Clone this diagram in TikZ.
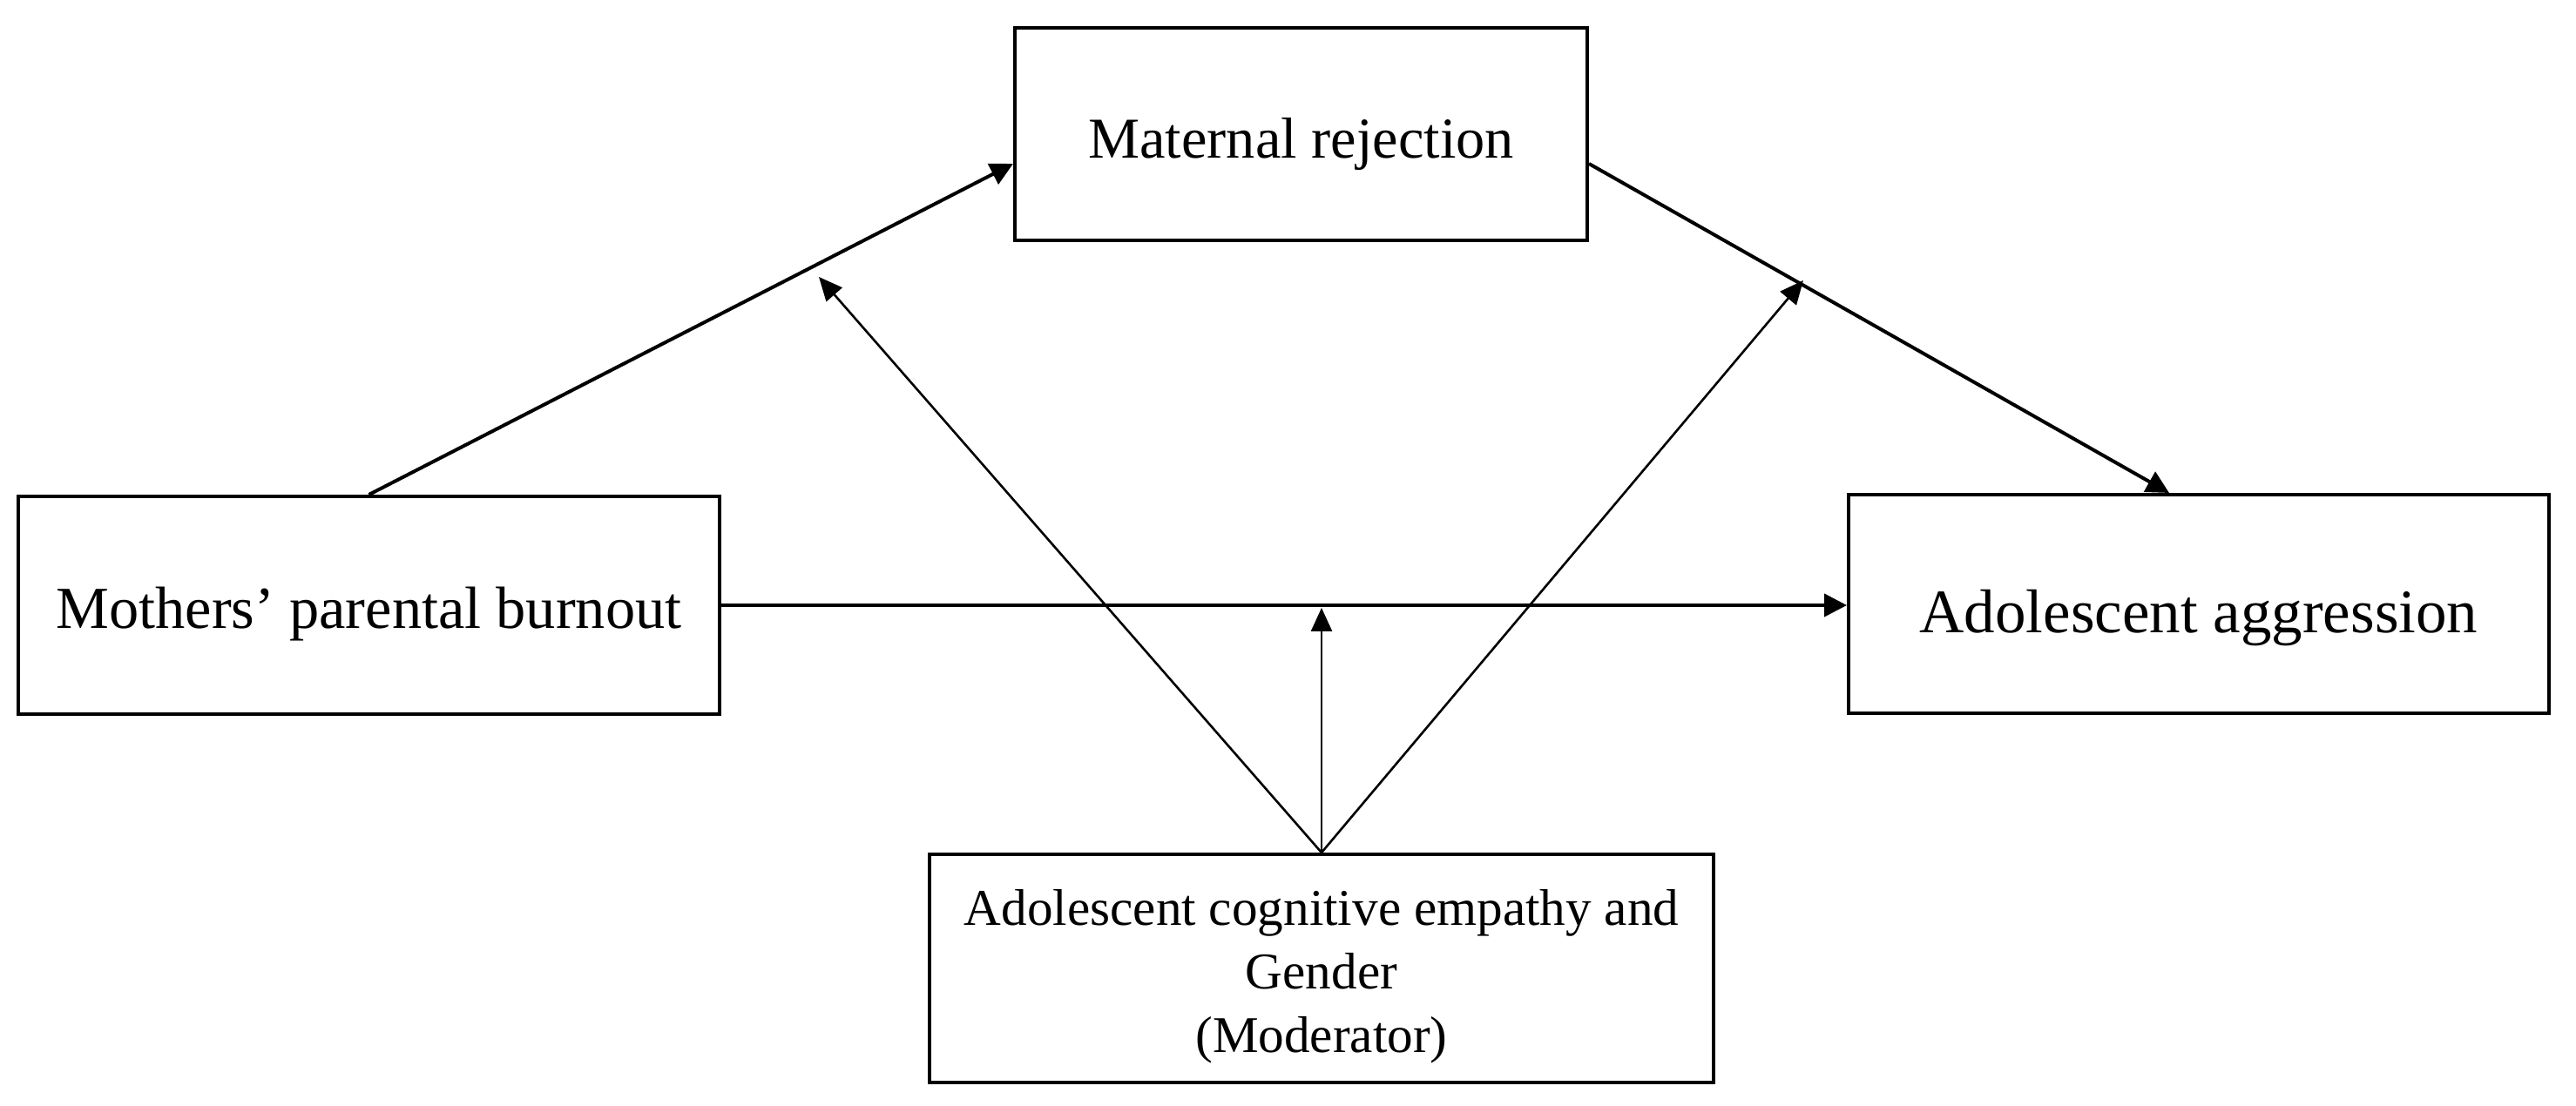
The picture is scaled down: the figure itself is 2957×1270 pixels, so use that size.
\documentclass[tikz,border=0pt]{standalone}
\usepackage{fontspec}
\setmainfont{Liberation Serif}
\usetikzlibrary{arrows.meta}
\begin{document}
\begin{tikzpicture}[x=0.25pt,y=-0.25pt,
  box/.style={draw=black, line width=1pt, rectangle, inner sep=0pt, text=black, align=center},
  mainarrow/.style={line width=1pt, -{Triangle[length=6.5pt,width=6.5pt]}},
  modarrow/.style={line width=0.65pt, -{Triangle[length=6.75pt,width=6pt]}}]
\useasboundingbox (0,0) rectangle (2957,1270);

\node[box, minimum width=164.25pt, minimum height=61pt,
      font={\fontsize{16.6pt}{20pt}\selectfont}, text height=14pt, text depth=0pt]
  (mr) at (1493.5,154) {Maternal rejection};
\node[box, minimum width=201.25pt, minimum height=62.5pt,
      font={\fontsize{17.1pt}{20.5pt}\selectfont}, text height=13.5pt, text depth=0pt]
  (mpb) at (423.5,695) {Mothers’ parental burnout};
\node[box, minimum width=201pt, minimum height=62.75pt,
      font={\fontsize{17.75pt}{21pt}\selectfont}, text height=16.5pt, text depth=0pt]
  (agg) at (2524,693.5) {Adolescent aggression};
\node[box, minimum width=225pt, minimum height=65.5pt,
      font={\fontsize{14.8pt}{18.25pt}\selectfont}]
  (mod) at (1517,1112) {\rule{0pt}{14.75pt}Adolescent cognitive empathy and\\Gender\\(Moderator)};

\coordinate (lt) at (940,318);
\coordinate (rt) at (2070,322);

\draw[mainarrow] (mpb.north) -- (mr.west |- 0,188);
\draw[mainarrow] (mr.east |- 0,188) -- (agg.north -| 2490,0);
\draw[mainarrow] (mpb.east) -- (mpb.east -| agg.west);

\draw[modarrow] (mod.north) -- (lt);
\draw[modarrow] (mod.north) -- (rt);
\draw[modarrow] (mod.north) -- (mod.north |- 0,698);
\end{tikzpicture}
\end{document}
